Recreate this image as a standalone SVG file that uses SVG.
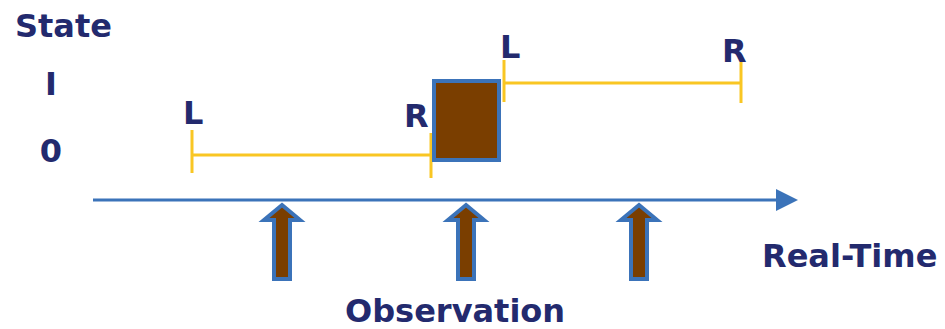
<svg xmlns="http://www.w3.org/2000/svg" width="945" height="329" viewBox="0 0 945 329">
<defs>
<style>
.t{font-family:"DejaVu Sans",sans-serif;font-weight:bold;font-size:32px;fill:#232A6E}
.y{stroke:#F9C623;stroke-width:3;fill:none}
.obs{fill:#7A3E00;stroke:#3B73B9;stroke-width:4;stroke-linejoin:miter}
</style>
<marker id="ah" markerWidth="22" markerHeight="22" refX="0" refY="11" orient="auto" markerUnits="userSpaceOnUse">
<path d="M0,0 L22,11 L0,22 Z" fill="#3B73B9"/>
</marker>
</defs>
<rect width="945" height="329" fill="#fff"/>
<g id="axis-labels">
<text class="t" x="15" y="37">State</text>
<text class="t" x="51" y="95" text-anchor="middle">I</text>
<text class="t" x="51" y="162" text-anchor="middle">0</text>
<text class="t" x="762" y="267">Real-Time</text>
<text class="t" x="345" y="322">Observation</text>
</g>
<g id="connectors">
<line x1="93" y1="200" x2="776" y2="200" stroke="#3B73B9" stroke-width="3" marker-end="url(#ah)"/>
</g>
<g id="interval-low">
<line class="y" x1="192" y1="155" x2="431" y2="155"/>
<line class="y" x1="192" y1="130" x2="192" y2="173"/>
<line class="y" x1="431" y1="133" x2="431" y2="178"/>
<text class="t" x="183" y="124">L</text>
<text class="t" x="404" y="127">R</text>
</g>
<g id="interval-high">
<line class="y" x1="504" y1="83" x2="741" y2="83"/>
<line class="y" x1="504" y1="60" x2="504" y2="102"/>
<line class="y" x1="741" y1="62" x2="741" y2="103"/>
<text class="t" x="500" y="58">L</text>
<text class="t" x="722" y="62">R</text>
</g>
<g id="transition">
<rect x="434" y="81" width="65" height="79" fill="#7A3E00" stroke="#3B73B9" stroke-width="4"/>
</g>
<g id="obs1"><polygon class="obs" points="282,205 300,220 290,220 290,279 274,279 274,220 264,220"/></g>
<g id="obs2"><polygon class="obs" points="466,205 484,220 474,220 474,279 458,279 458,220 448,220"/></g>
<g id="obs3"><polygon class="obs" points="639,205 657,220 647,220 647,279 631,279 631,220 621,220"/></g>
</svg>
